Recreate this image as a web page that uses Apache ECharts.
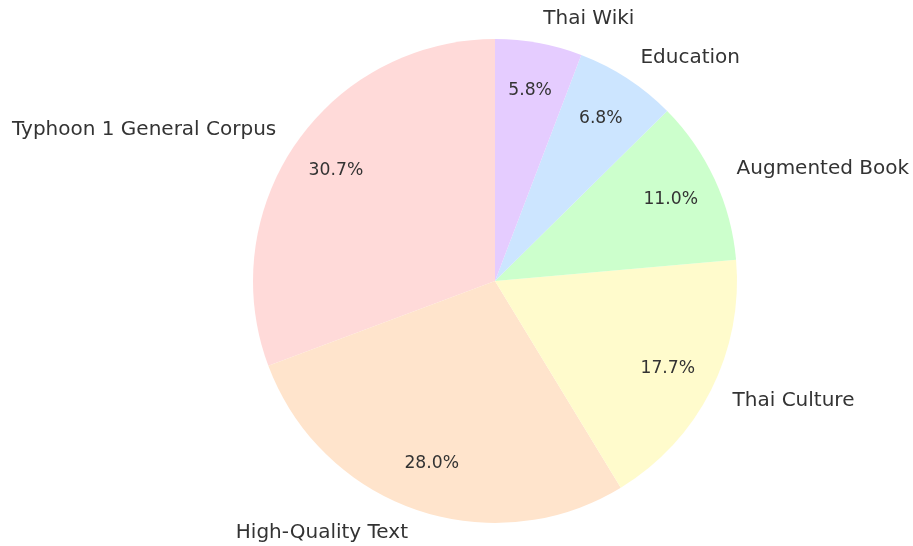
<!DOCTYPE html>
<html>
<head>
<meta charset="utf-8">
<script src="https://cdn.jsdelivr.net/npm/echarts@6/dist/echarts.min.js"></script>
<style>
  html, body { margin: 0; padding: 0; background: #fff; }
  #chart { width: 913px; height: 546px; }
</style>
</head>
<body>
<div id="chart"></div>
<script>
  // slices, counter-clockwise from 12 o'clock
  const categories = ['Typhoon 1 General Corpus', 'High-Quality Text', 'Thai Culture', 'Augmented Book', 'Education', 'Thai Wiki'];
  const shares = [30.7, 28.0, 17.7, 11.0, 6.8, 5.8];
  const colors = ['#ffdad9', '#ffe4cc', '#fffbcc', '#ccffcc', '#cce5ff', '#e5ccff'];

  const cx = 495, cy = 281, R = 242;
  const textColor = '#333333';
  const font = 'DejaVu Sans';

  let myChart = echarts.init(document.getElementById('chart'));

  let slices = categories.map((name, i) => ({
    name: name,
    value: shares[i],
    itemStyle: { color: colors[i] }
  }));

  let option = {
    animation: false,
    backgroundColor: '#ffffff',
    series: [
      {
        // the pie itself, name labels outside
        type: 'pie',
        center: [cx, cy],
        radius: [0, R],
        startAngle: 90,
        clockwise: false,
        avoidLabelOverlap: false,
        emphasis: { disabled: true },
        label: {
          show: true,
          position: 'outside',
          color: textColor,
          fontFamily: font,
          fontSize: 20,
          distanceToLabelLine: 0,
          formatter: '{b}'
        },
        labelLine: { show: false, length: R * 0.1, length2: 0 },
        data: slices
      },
      {
        // transparent ring that only carries the percentage labels
        type: 'pie',
        center: [cx, cy],
        radius: [R * 0.6 - 6, R],
        startAngle: 90,
        clockwise: false,
        silent: true,
        avoidLabelOverlap: false,
        emphasis: { disabled: true },
        itemStyle: { color: 'rgba(0,0,0,0)' },
        label: {
          show: true,
          position: 'inside',
          color: textColor,
          fontFamily: font,
          fontSize: 17.2,
          formatter: p => p.percent.toFixed(1) + '%'
        },
        labelLine: { show: false },
        data: categories.map((name, i) => ({ name: name, value: shares[i] }))
      }
    ]
  };
  option && myChart.setOption(option);
</script>
</body>
</html>
